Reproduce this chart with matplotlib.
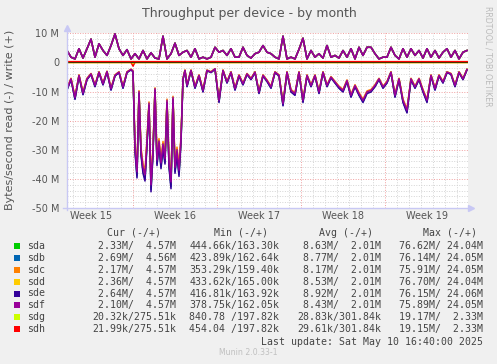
import matplotlib.pyplot as plt
from matplotlib.patches import Rectangle
import numpy as np

# device names and munin colours
devices = ['sda', 'sdb', 'sdc', 'sdd', 'sde', 'sdf', 'sdg', 'sdh']
colors = ['#00CC00', '#0066B3', '#FF8000', '#FFCC00', '#330099', '#990099', '#CCFF00', '#FF0000']

# legend columns
cur_vals = ['2.33M/  4.57M', '2.69M/  4.56M', '2.17M/  4.57M', '2.36M/  4.57M',
            '2.64M/  4.57M', '2.10M/  4.57M', '20.32k/275.51k', '21.99k/275.51k']
min_vals = ['444.66k/163.30k', '423.89k/162.64k', '353.29k/159.40k', '433.62k/165.00k',
            '416.81k/163.92k', '378.75k/162.05k', '840.78 /197.82k', '454.04 /197.82k']
avg_vals = ['8.63M/  2.01M', '8.77M/  2.01M', '8.17M/  2.01M', '8.53M/  2.01M',
            '8.92M/  2.01M', '8.43M/  2.01M', '28.83k/301.84k', '29.61k/301.84k']
max_vals = ['76.62M/ 24.04M', '76.14M/ 24.05M', '75.91M/ 24.05M', '76.70M/ 24.04M',
            '76.15M/ 24.06M', '75.89M/ 24.05M', '19.17M/  2.33M', '19.15M/  2.33M']

# average read (MB/s) of the six busy disks, from the legend
avg_read = [8.63, 8.77, 8.17, 8.53, 8.92, 8.43]

# write throughput (MB/s), one sample every 8 hours
write_hours = list(range(0, 801, 8))
write_mb = [4.1, 1.8, 1.2, 4.7, 1.5, 4.7, 8.0, 1.8, 6.4, 4.1, 2.4, 5.8, 9.8, 4.7, 2.4, 4.4,
            1.2, 3.0, 1.2, 4.1, 1.2, 3.3, 1.5, 1.2, 9.0, 1.2,
            3.0, 6.6, 2.4, 3.5, 4.1, 1.8, 4.7, 1.2, 1.8, 1.2, 1.8, 5.2, 3.5, 4.1, 2.4, 4.7,
            1.8, 1.8, 5.2, 2.4, 1.5, 3.0, 3.5, 5.8, 3.5,
            3.0, 1.8, 1.2, 9.0, 1.2, 1.8, 1.2, 4.5, 8.3, 1.2, 4.1, 1.8, 3.0, 1.5, 5.8, 1.8,
            2.4, 1.5, 4.1, 1.8, 4.7, 1.2, 5.2, 2.4, 5.2,
            5.2, 3.0, 1.2, 1.8, 1.8, 5.2, 2.4, 1.2, 4.7, 1.8, 4.7, 2.4, 4.1, 1.5, 4.7, 1.8,
            4.1, 1.5, 3.5, 4.7, 1.8, 4.1, 1.2, 3.5, 4.1]

# read throughput (MB/s, drawn negative)
read_hours = list(range(0, 129, 8)) + list(range(132, 241, 4)) + list(range(248, 801, 8))
read_mb = [-9.0, -5.6, -12.0, -4.4, -10.5, -5.6, -3.9, -7.9, -3.3, -7.3, -3.1, -9.0, -4.4,
           -3.3, -8.4, -3.3, -2.4,
           -3.0, -29.0, -37.5, -10.0, -30.0, -36.0, -38.5, -27.0, -14.0, -42.0, -30.0, -9.0,
           -33.5, -27.0, -34.5, -28.0, -33.0, -13.0, -34.0, -41.0, -12.0, -36.0, -30.0, -37.0,
           -26.0, -5.6, -2.7, -7.9,
           -2.7, -8.4, -4.4, -9.6, -2.7, -3.3, -2.2, -13.0, -2.7, -6.7, -3.3, -9.0, -4.4, -7.3,
           -3.9, -5.6, -3.3, -10.1, -4.4, -6.2,
           -8.4, -3.3, -4.4, -14.1, -3.3, -9.6, -10.7, -3.3, -13.0, -4.4, -7.9, -4.4, -10.1,
           -3.3, -7.9, -5.0, -6.7, -8.4, -9.6, -6.2, -11.3, -7.9, -10.7, -13.0, -10.1,
           -9.6, -7.9, -5.6, -8.4, -6.7, -3.3, -11.3, -5.6, -13.0, -16.4, -5.6, -8.4, -5.6,
           -9.6, -13.0, -4.4, -9.0, -4.4, -6.7, -3.3, -3.9, -7.9, -3.3, -5.6, -2.4]

# the two quiet disks
small_hours = [0, 128, 132, 136, 802]
sdg_read = [-0.03, -0.03, -0.6, -0.03, -0.03]
sdg_write = [0.15, 0.15, 0.15, 0.15, 0.15]
sdh_read = [-0.03, -0.03, -1.3, -0.03, -0.03]
sdh_write = [0.36, 0.36, 0.36, 0.36, 0.36]

week_starts = [132, 300, 468, 636]
week_mids = [48, 216, 384, 552, 720]
week_labels = ['Week 15', 'Week 16', 'Week 17', 'Week 18', 'Week 19']
y_ticks = [-50, -40, -30, -20, -10, 0, 10]
y_labels = ['-50 M', '-40 M', '-30 M', '-20 M', '-10 M', '0', '10 M']

W, H = 497, 364
def fx(x):
    return x / W
def fy(y):
    return 1 - y / H

txt = '#555555'
fig = plt.figure(figsize=(W / 100, H / 100), dpi=100, facecolor='#f0f0f0')
ax = fig.add_axes([fx(67), fy(208), (468 - 67) / W, (208 - 33.3) / H])
ax.set_facecolor('white')
ax.set_xlim(0, 802)
ax.set_ylim(-50, 10)

# grid
ax.set_xticks(week_starts)
ax.set_xticks(list(range(12, 802, 24)), minor=True)
ax.set_yticks(y_ticks)
ax.set_yticklabels(y_labels)
ax.set_yticks(list(range(-50, 11, 2)), minor=True)
ax.grid(which='minor', color='#d4d4d4', linestyle=(0, (1, 1.6)), linewidth=0.7)
ax.grid(which='major', color='#f0a0a0', linestyle=(0, (1, 1.6)), linewidth=0.7)
ax.axvline(802, color='#f0a0a0', linestyle=(0, (1, 1.6)), linewidth=0.7)
ax.set_axisbelow(True)
ax.tick_params(axis='x', which='both', length=0, labelbottom=False)
ax.tick_params(axis='y', which='both', length=0, pad=5.5, labelsize=7, labelcolor=txt)
for s in ax.spines.values():
    s.set_visible(False)

# series
write_arr = np.array(write_mb)
read_arr = np.array(read_mb)
for i in range(6):
    k = avg_read[i] / avg_read[5]
    ax.plot(read_hours, read_arr * k, color=colors[i], lw=1.1, zorder=2)
    ax.plot(write_hours, write_arr, color=colors[i], lw=1.1, zorder=2)
ax.plot(small_hours, sdg_read, color=colors[6], lw=1.0, zorder=2)
ax.plot(small_hours, sdh_read, color=colors[7], lw=1.0, zorder=2)
ax.plot(small_hours, sdg_write, color=colors[6], lw=1.0, zorder=2)
ax.axhline(0, color='black', lw=1.1, zorder=3)
ax.plot(small_hours, sdh_write, color=colors[7], lw=0.9, zorder=4)

# axis lines with arrows
axc = '#c8c8f4'
ax.plot([0, 0], [-0.01, 1.03], color=axc, lw=1, transform=ax.transAxes, clip_on=False, zorder=5)
ax.plot([-0.01, 1.008], [0, 0], color=axc, lw=1, transform=ax.transAxes, clip_on=False, zorder=5)
ax.plot([0], [1.03], marker='^', ms=4, color=axc, transform=ax.transAxes, clip_on=False)
ax.plot([1.008], [0], marker='>', ms=4, color=axc, transform=ax.transAxes, clip_on=False)

for h, lab in zip(week_mids, week_labels):
    ax.text(h, -0.046, lab, transform=ax.get_xaxis_transform(), ha='center', va='center',
            fontsize=7, color=txt)

fig.text(fx(249), fy(13), 'Throughput per device - by month', ha='center', va='center',
         fontsize=9, color=txt)
fig.text(fx(10), fy(120), 'Bytes/second read (-) / write (+)', rotation=90,
         ha='center', va='center', fontsize=8, color=txt)
fig.text(fx(488), fy(56), 'RRDTOOL / TOBI OETIKER', rotation=270, ha='center', va='center',
         fontsize=5.7, color='#bbbbbb')

# legend
mono = dict(family='DejaVu Sans Mono', fontsize=7.1, color='#444444', va='center')
for x, head in zip([107.3, 213.7, 319, 423.3], ['Cur (-/+)', 'Min (-/+)', 'Avg (-/+)', 'Max (-/+)']):
    fig.text(fx(x), fy(233), head, ha='left', **mono)
for i, dev in enumerate(devices):
    y = 245.7 + 11.95 * i
    fig.add_artist(Rectangle((fx(14), fy(y + 3)), 6 / W, 6 / H, transform=fig.transFigure,
                             facecolor=colors[i], edgecolor='none'))
    fig.text(fx(27), fy(y), dev, ha='left', **mono)
    fig.text(fx(176), fy(y), cur_vals[i], ha='right', **mono)
    fig.text(fx(279.3), fy(y), min_vals[i], ha='right', **mono)
    fig.text(fx(381), fy(y), avg_vals[i], ha='right', **mono)
    fig.text(fx(483.3), fy(y), max_vals[i], ha='right', **mono)
fig.text(fx(483.3), fy(341.7), 'Last update: Sat May 10 16:40:00 2025', ha='right', **mono)
fig.text(fx(248.5), fy(352.7), 'Munin 2.0.33-1', ha='center', va='center', fontsize=5.6,
         color='#c0c0c0')

fig.savefig('out.png', dpi=100, facecolor=fig.get_facecolor())
